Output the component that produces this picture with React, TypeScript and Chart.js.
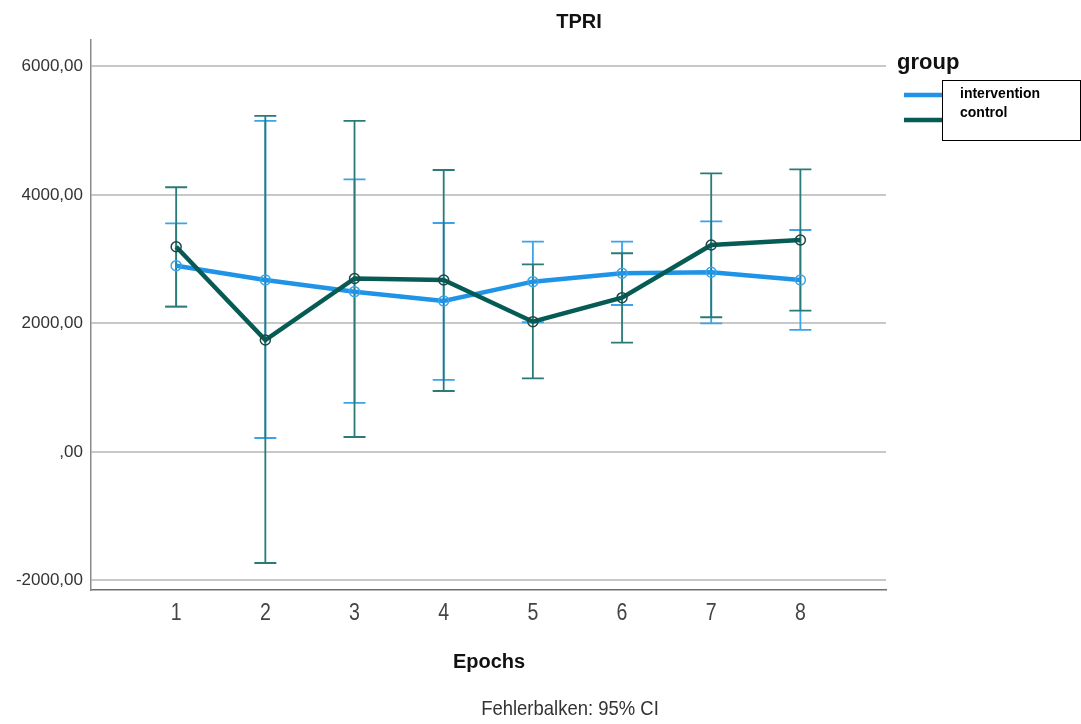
import React, { useEffect, useRef } from "react";
import { Chart, registerables } from "chart.js";

Chart.register(...registerables);

const epochs = [1, 2, 3, 4, 5, 6, 7, 8];
const interventionMean = [2900, 2677, 2495, 2350, 2651, 2781, 2797, 2677];
const interventionLower = [2262, 218, 763, 1121, 2019, 2288, 2003, 1899];
const interventionUpper = [3559, 5152, 4244, 3564, 3273, 3273, 3589, 3455];
const controlMean = [3195, 1743, 2700, 2677, 2028, 2402, 3222, 3300];
const controlLower = [2262, -1728, 233, 949, 1147, 1701, 2097, 2199];
const controlUpper = [4120, 5230, 5152, 4389, 2921, 3093, 4337, 4400];
const yTicks = [-2000, 0, 2000, 4000, 6000];

const BLUE = "#1f93e6";
const BLUE_ERR = "#3aa3ea";
const TEAL = "#065c55";
const TEAL_ERR = "#2a7b77";
const TEAL_PT = "#1f4744";

function fmt(v: number) {
  if (v === 0) return ",00";
  return `${v},00`;
}

const errorBarPlugin = {
  id: "errorBars",
  beforeDatasetsDraw(chart: any) {
    const { ctx, scales } = chart;
    const x = scales.x;
    const y = scales.y;
    const draw = (lo: number[], hi: number[], color: string, w: number) => {
      ctx.save();
      ctx.strokeStyle = color;
      ctx.lineWidth = w;
      epochs.forEach((e, i) => {
        const px = x.getPixelForValue(e);
        const yl = y.getPixelForValue(lo[i]);
        const yh = y.getPixelForValue(hi[i]);
        ctx.beginPath();
        ctx.moveTo(px, yl);
        ctx.lineTo(px, yh);
        ctx.moveTo(px - 11, yl);
        ctx.lineTo(px + 11, yl);
        ctx.moveTo(px - 11, yh);
        ctx.lineTo(px + 11, yh);
        ctx.stroke();
      });
      ctx.restore();
    };
    draw(interventionLower, interventionUpper, BLUE_ERR, 1.8);
    draw(controlLower, controlUpper, TEAL_ERR, 1.8);
  },
};

const textPlugin = {
  id: "texts",
  afterDraw(chart: any) {
    const { ctx, scales } = chart;
    ctx.save();
    ctx.textBaseline = "middle";
    ctx.textAlign = "center";
    // x tick labels (narrow look)
    ctx.fillStyle = "#444";
    ctx.font = "23px 'Liberation Sans', Arial, sans-serif";
    scales.x.ticks.forEach((t: any) => {
      const px = scales.x.getPixelForValue(t.value);
      ctx.save();
      ctx.translate(px, 614);
      ctx.scale(0.85, 1);
      ctx.fillText(String(t.value), 0, 0);
      ctx.restore();
    });
    ctx.fillStyle = "#111";
    ctx.font = "bold 20px 'Liberation Sans', Arial, sans-serif";
    ctx.fillText("TPRI", 579, 22);
    ctx.fillText("Epochs", 489, 662);
    ctx.fillStyle = "#333";
    ctx.font = "21px 'Liberation Sans', Arial, sans-serif";
    ctx.save();
    ctx.translate(570, 709);
    ctx.scale(0.88, 1);
    ctx.fillText("Fehlerbalken: 95% CI", 0, 0);
    ctx.restore();
    // legend
    ctx.textAlign = "left";
    ctx.fillStyle = "#111";
    ctx.font = "bold 22px 'Liberation Sans', Arial, sans-serif";
    ctx.fillText("group", 897, 63);
    ctx.lineWidth = 4.5;
    ctx.strokeStyle = BLUE;
    ctx.beginPath();
    ctx.moveTo(904, 95);
    ctx.lineTo(942, 95);
    ctx.stroke();
    ctx.strokeStyle = TEAL;
    ctx.beginPath();
    ctx.moveTo(904, 120);
    ctx.lineTo(942, 120);
    ctx.stroke();
    ctx.fillStyle = "#fff";
    ctx.fillRect(942.5, 80.5, 138, 60);
    ctx.lineWidth = 1;
    ctx.strokeStyle = "#000";
    ctx.strokeRect(942.5, 80.5, 138, 60);
    ctx.fillStyle = "#000";
    ctx.font = "bold 14px 'Liberation Sans', Arial, sans-serif";
    ctx.fillText("intervention", 960, 94);
    ctx.fillText("control", 960, 113);
    ctx.restore();
  },
};

export default function App() {
  const ref = useRef<HTMLCanvasElement | null>(null);
  useEffect(() => {
    if (!ref.current) return;
    const chart = new Chart(ref.current, {
      type: "line",
      data: {
        datasets: [
          {
            label: "control",
            data: epochs.map((e, i) => ({ x: e, y: controlMean[i] })),
            borderColor: TEAL,
            borderWidth: 4.5,
            pointRadius: 5,
            pointBorderWidth: 1.5,
            pointBorderColor: TEAL_PT,
            pointBackgroundColor: "rgba(0,0,0,0)",
            tension: 0,
          },
          {
            label: "intervention",
            data: epochs.map((e, i) => ({ x: e, y: interventionMean[i] })),
            borderColor: BLUE,
            borderWidth: 4.5,
            pointRadius: 5,
            pointBorderWidth: 1.5,
            pointBorderColor: BLUE_ERR,
            pointBackgroundColor: "rgba(0,0,0,0)",
            tension: 0,
          },
        ],
      },
      options: {
        responsive: false,
        animation: false,
        layout: { padding: { left: 0, top: 40, right: 195, bottom: 0 } },
        plugins: {
          legend: { display: false },
          title: { display: false },
          tooltip: { enabled: false },
        },
        scales: {
          x: {
            type: "linear",
            min: 0.045,
            max: 8.96,
            afterBuildTicks: (s: any) => {
              s.ticks = epochs.map((v) => ({ value: v }));
            },
            afterFit: (s: any) => {
              s.height = 134;
            },
            grid: { display: false, drawTicks: false },
            border: { display: true, color: "#6e6e6e", width: 1.5 },
            ticks: { display: false },
          },
          y: {
            min: -2148,
            max: 6412,
            afterBuildTicks: (s: any) => {
              s.ticks = yTicks.map((v) => ({ value: v }));
            },
            afterFit: (s: any) => {
              s.width = 91;
            },
            grid: { color: "#c8c8c8", lineWidth: 2, drawTicks: false },
            border: { display: true, color: "#8a8a8a", width: 1.5 },
            ticks: {
              color: "#333",
              padding: 8,
              font: { family: "'Liberation Sans', Arial", size: 17 },
              callback: (v: any) => fmt(Number(v)),
            },
          },
        },
      },
      plugins: [errorBarPlugin, textPlugin],
    } as any);
    return () => chart.destroy();
  }, []);
  return (
    <div style={{ position: "absolute", left: 0, top: 0, width: 1081, height: 724, background: "#fff" }}>
      <canvas ref={ref} width={1081} height={724} />
    </div>
  );
}
